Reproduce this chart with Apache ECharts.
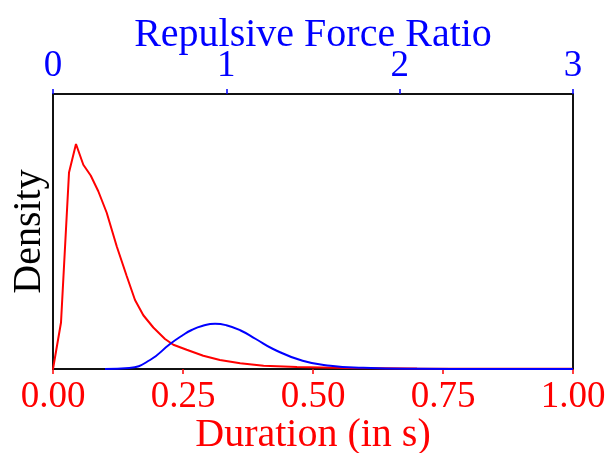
<!DOCTYPE html>
<html>
<head>
<meta charset="utf-8">
<script src="https://cdn.jsdelivr.net/npm/echarts@6/dist/echarts.min.js"></script>
<style>
  html, body { margin: 0; padding: 0; background: #fff; }
  #chart { width: 608px; height: 453px; }
</style>
</head>
<body>
<div id="chart"></div>
<script>
// duration density (bottom axis, seconds)
const durationX = [0, 0.0154, 0.0308, 0.0442, 0.0583, 0.0725, 0.0871, 0.1033, 0.1225, 0.1417, 0.1577, 0.1737, 0.1929, 0.2154, 0.2314, 0.2571, 0.289, 0.321, 0.36, 0.405, 0.469, 0.565, 0.7, 0.85, 1.0];
const durationDensity = [0, 1.86, 7.86, 9.0, 8.17, 7.74, 7.11, 6.25, 4.91, 3.72, 2.76, 2.15, 1.66, 1.2, 0.97, 0.77, 0.53, 0.36, 0.23, 0.13, 0.08, 0.04, 0.02, 0.015, 0.01];

// repulsive force ratio density (top axis)
const forceX = [0.3, 0.44, 0.56, 0.675, 0.75, 0.8, 0.86, 0.935, 1.0, 1.08, 1.17, 1.27, 1.44, 1.6, 1.79, 2.1, 2.5, 3.0];
const forceDensity = [0, 0.04, 0.36, 1.0, 1.36, 1.56, 1.72, 1.81, 1.75, 1.55, 1.2, 0.8, 0.33, 0.13, 0.05, 0.01, 0, 0];

const font = 'Liberation Serif';
const red = '#ff0000';
const blue = '#0000ff';

const zip = (xs, ys) => xs.map((x, i) => [x, ys[i]]);

const chart = echarts.init(document.getElementById('chart'));

const options = {
  animation: false,
  grid: {
    left: 53, right: 35, top: 94, bottom: 84,
    outerBoundsMode: 'none',
    show: true,
    borderColor: '#111',
    borderWidth: 2
  },
  xAxis: [
    {
      type: 'value',
      position: 'bottom',
      min: 0, max: 1, interval: 0.25,
      name: 'Duration (in s)',
      nameLocation: 'middle',
      nameGap: 46,
      nameMoveOverlap: false,
      nameTextStyle: { color: red, fontFamily: font, fontSize: 40 },
      axisLine: { show: false },
      axisTick: { show: true, length: 5, lineStyle: { color: red, width: 1.5 } },
      axisLabel: {
        color: red, fontFamily: font, fontSize: 37, margin: 10,
        formatter: (v) => v.toFixed(2)
      },
      splitLine: { show: false }
    },
    {
      type: 'value',
      position: 'top',
      min: 0, max: 3, interval: 1,
      name: 'Repulsive Force Ratio',
      nameLocation: 'middle',
      nameGap: 39,
      nameMoveOverlap: false,
      nameTextStyle: { color: blue, fontFamily: font, fontSize: 40 },
      axisLine: { show: false },
      axisTick: { show: true, length: 5, lineStyle: { color: blue, width: 1.5 } },
      axisLabel: { color: blue, fontFamily: font, fontSize: 37, margin: 9 },
      splitLine: { show: false }
    }
  ],
  yAxis: {
    type: 'value',
    min: 0, max: 11,
    name: 'Density',
    nameLocation: 'middle',
    nameGap: 4,
    nameTextStyle: { color: '#000', fontFamily: font, fontSize: 40 },
    axisLine: { show: false },
    axisTick: { show: false },
    axisLabel: { show: false },
    splitLine: { show: false }
  },
  series: [
    {
      type: 'line',
      xAxisIndex: 0,
      data: zip(durationX, durationDensity),
      showSymbol: false,
      lineStyle: { color: red, width: 2 },
      itemStyle: { color: red }
    },
    {
      type: 'line',
      xAxisIndex: 1,
      smooth: true,
      data: zip(forceX, forceDensity),
      showSymbol: false,
      lineStyle: { color: blue, width: 2 },
      itemStyle: { color: blue }
    }
  ]
};

chart.setOption(options);
</script>
</body>
</html>
